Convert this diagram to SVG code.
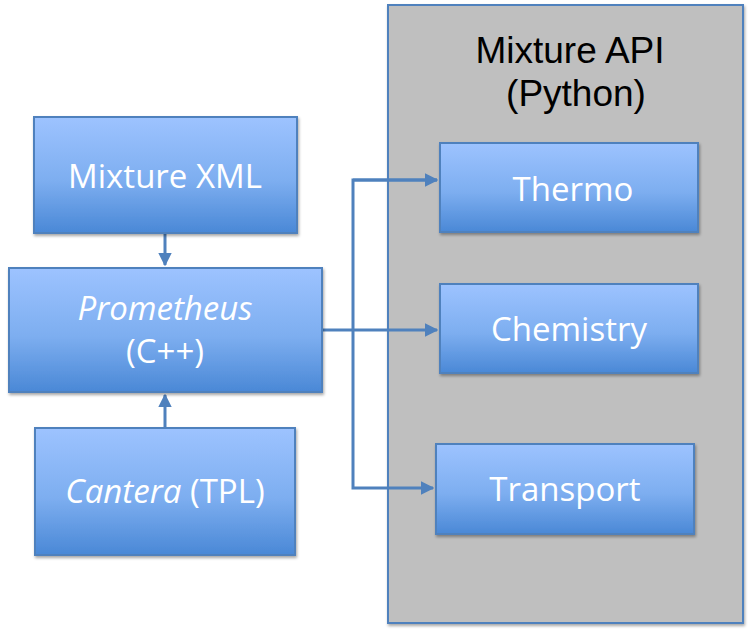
<svg xmlns="http://www.w3.org/2000/svg" width="750" height="635" viewBox="0 0 750 635">
<defs>
<linearGradient id="g" x1="0" y1="0" x2="0" y2="1">
<stop offset="0" stop-color="#9DC3FF"/>
<stop offset="0.55" stop-color="#7DAEF0"/>
<stop offset="1" stop-color="#4A88D6"/>
</linearGradient>
<filter id="sh" x="-10%" y="-10%" width="130%" height="130%">
<feDropShadow dx="1" dy="2" stdDeviation="1.5" flood-color="#000" flood-opacity="0.35"/>
</filter>
<marker id="ah" viewBox="0 0 10 10" refX="9" refY="5" markerWidth="4.5" markerHeight="4.5" orient="auto" markerUnits="strokeWidth">
<path d="M0,0 L10,5 L0,10 z" fill="#4F81BD"/>
</marker>
<style>
.box{fill:url(#g);stroke:#4F81BD;stroke-width:2;filter:url(#sh)}
.lbl{fill:#fff;font-family:"Open Sans","Noto Sans",sans-serif;font-size:33px;text-anchor:middle}
.title{fill:#000;font-family:"Liberation Sans",Arial,sans-serif;font-size:37px;text-anchor:middle}
.con{fill:none;stroke:#4F81BD;stroke-width:3}
</style>
</defs>
<rect width="750" height="635" fill="#fff"/>
<g id="api">
<rect x="388" y="5" width="355" height="618" fill="#BFBFBF" stroke="#4F81BD" stroke-width="2" filter="url(#sh)"/>
<text class="title" x="570" y="63">Mixture API</text>
<text class="title" x="576" y="106">(Python)</text>
</g>
<g id="connectors">
<path class="con" d="M165,233 L165,265" marker-end="url(#ah)"/>
<path class="con" d="M165,428 L165,395" marker-end="url(#ah)"/>
<path class="con" d="M322,330 L437,330" marker-end="url(#ah)"/>
<path class="con" d="M437,180 L353,180 L353,488 L433,488" marker-end="url(#ah)"/>
<path class="con" d="M353,180 L437,180" marker-end="url(#ah)"/>
</g>
<g id="mixture-xml">
<rect class="box" x="34" y="117" width="263" height="116"/>
<text class="lbl" x="165" y="188">Mixture XML</text>
</g>
<g id="prometheus">
<rect class="box" x="9" y="268" width="313" height="124"/>
<text class="lbl" x="165" y="320" font-style="italic">Prometheus</text>
<text class="lbl" x="165" y="363">(C++)</text>
</g>
<g id="cantera">
<rect class="box" x="35" y="428" width="260" height="127"/>
<text class="lbl" x="165" y="503"><tspan font-style="italic">Cantera</tspan> (TPL)</text>
</g>
<g id="thermo">
<rect class="box" x="440" y="143" width="258" height="89"/>
<text class="lbl" x="573" y="201">Thermo</text>
</g>
<g id="chemistry">
<rect class="box" x="440" y="284" width="258" height="89"/>
<text class="lbl" x="569" y="341">Chemistry</text>
</g>
<g id="transport">
<rect class="box" x="436" y="444" width="258" height="90"/>
<text class="lbl" x="565" y="501">Transport</text>
</g>
</svg>
